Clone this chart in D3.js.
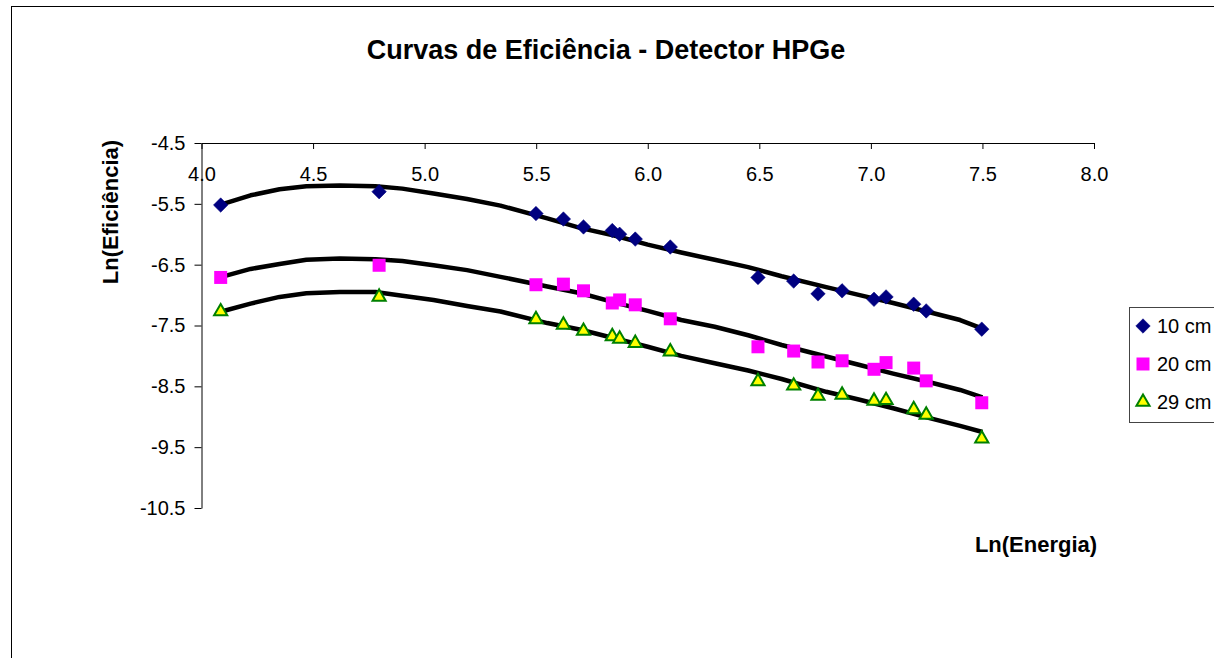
<!DOCTYPE html>
<html>
<head>
<meta charset="utf-8">
<script src="https://cdn.jsdelivr.net/npm/d3@7"></script>
<style>
  body { margin: 0; background: #fff; }
  svg { display: block; font-family: "Liberation Sans", Arial, sans-serif; }
</style>
</head>
<body>
<script>
// ln(energy) for every measured line
let lnEnergia = [4.086, 4.796, 5.499, 5.622, 5.712, 5.841, 5.874, 5.944, 6.101,
  6.494, 6.654, 6.763, 6.871, 7.014, 7.068, 7.192, 7.248, 7.497];

// ln(efficiency) at each distance
let ef10 = [-5.52, -5.30, -5.66, -5.75, -5.88, -5.94, -6.00, -6.08, -6.21,
  -6.71, -6.77, -6.98, -6.93, -7.07, -7.03, -7.15, -7.26, -7.56];
let ef20 = [-6.71, -6.51, -6.83, -6.82, -6.93, -7.13, -7.08, -7.16, -7.39,
  -7.85, -7.92, -8.10, -8.08, -8.22, -8.11, -8.20, -8.41, -8.77];
let ef29 = [-7.27, -7.03, -7.40, -7.49, -7.59, -7.68, -7.72, -7.79, -7.93,
  -8.42, -8.49, -8.66, -8.64, -8.74, -8.73, -8.88, -8.97, -9.36];

// trendlines
let trendX = [4.09, 4.22, 4.35, 4.47, 4.62, 4.78, 4.90, 5.04, 5.19, 5.34, 5.55, 5.70,
  5.85, 6.00, 6.15, 6.30, 6.45, 6.60, 6.80, 6.95, 7.10, 7.25, 7.40, 7.50];
let trend10 = [-5.51, -5.36, -5.26, -5.21, -5.20, -5.21, -5.25, -5.33, -5.42, -5.53, -5.74, -5.90,
  -6.02, -6.17, -6.30, -6.42, -6.54, -6.69, -6.87, -7.00, -7.13, -7.27, -7.41, -7.55];
let trend20 = [-6.70, -6.57, -6.49, -6.42, -6.40, -6.41, -6.44, -6.51, -6.59, -6.70, -6.86, -6.97,
  -7.12, -7.26, -7.41, -7.52, -7.66, -7.82, -8.01, -8.15, -8.29, -8.42, -8.56, -8.68];
let trend29 = [-7.27, -7.14, -7.03, -6.97, -6.95, -6.95, -7.01, -7.08, -7.18, -7.27, -7.46, -7.57,
  -7.71, -7.85, -8.00, -8.12, -8.24, -8.38, -8.59, -8.72, -8.86, -9.01, -9.15, -9.25];

let seriesNames = ['10 cm', '20 cm', '29 cm'];
let xTicks = [4.0, 4.5, 5.0, 5.5, 6.0, 6.5, 7.0, 7.5, 8.0];
let yTicks = [-4.5, -5.5, -6.5, -7.5, -8.5, -9.5, -10.5];

let width = 1214, height = 658;

let svg = d3.select('body')
  .append('svg')
  .attr('width', width)
  .attr('height', height);

// chart border (runs off the right and bottom edges)
svg.append('rect')
  .attr('x', 11.5).attr('y', 6.5)
  .attr('width', 1300).attr('height', 700)
  .attr('fill', 'none')
  .attr('stroke', '#000');

let xScale = d3.scaleLinear().domain([4, 8]).range([201.5, 1094]);
let yScale = d3.scaleLinear().domain([-4.5, -10.5]).range([143, 508]);

// x axis sits on top (crosses at -4.5), labels below the line
let xAxis = svg.append('g')
  .attr('transform', `translate(0,${yScale(-4.5)})`)
  .call(d3.axisBottom(xScale).tickValues(xTicks).tickFormat(d3.format('.1f'))
    .tickSize(6).tickPadding(18).tickSizeOuter(0));

let yAxis = svg.append('g')
  .attr('transform', `translate(${xScale(4)},0)`)
  .call(d3.axisLeft(yScale).tickValues(yTicks).tickFormat(d3.format('.1f'))
    .tickSize(7).tickPadding(9).tickSizeOuter(0));

svg.selectAll('.tick text')
  .attr('font-size', 20)
  .attr('font-family', '"Liberation Sans", Arial, sans-serif')
  .attr('fill', '#000');
svg.selectAll('.domain, .tick line').attr('stroke', '#000');
yAxis.selectAll('.tick text').text(d => d3.format('.1f')(d).replace('\u2212', '-'));

// titles
svg.append('text')
  .attr('x', 606).attr('y', 59)
  .attr('text-anchor', 'middle')
  .attr('font-size', 27).attr('font-weight', 'bold')
  .text('Curvas de Eficiência - Detector HPGe');

svg.append('text')
  .attr('x', 1036).attr('y', 552)
  .attr('text-anchor', 'middle')
  .attr('font-size', 22).attr('font-weight', 'bold')
  .text('Ln(Energia)');

svg.append('text')
  .attr('transform', 'translate(118,212) rotate(-90)')
  .attr('text-anchor', 'middle')
  .attr('font-size', 22).attr('font-weight', 'bold')
  .text('Ln(Eficiência)');

// trendlines
let line = d3.line()
  .x(d => xScale(d[0]))
  .y(d => yScale(d[1]));

[trend10, trend20, trend29].forEach(t => {
  svg.append('path')
    .datum(trendX.map((x, i) => [x, t[i]]))
    .attr('d', line)
    .attr('fill', 'none')
    .attr('stroke', '#000')
    .attr('stroke-width', 4.5)
    .attr('stroke-linejoin', 'round');
});

// markers
let styles = [
  { sym: d3.symbol().type(d3.symbolSquare).size(105), rot: 45, fill: '#000080', stroke: '#000080', sw: 0.5 },
  { sym: d3.symbol().type(d3.symbolSquare).size(169), rot: 0, fill: '#FF00FF', stroke: 'none', sw: 0 },
  { sym: d3.symbol().type(d3.symbolTriangle).size(75), rot: 0, fill: '#FFFF00', stroke: '#008000', sw: 2 }
];

[ef10, ef20, ef29].forEach((vals, s) => {
  let st = styles[s];
  svg.append('g').selectAll('path')
    .data(vals)
    .enter()
    .append('path')
    .attr('d', st.sym)
    .attr('transform', (d, i) => `translate(${xScale(lnEnergia[i])},${yScale(d)}) rotate(${st.rot})`)
    .attr('fill', st.fill)
    .attr('stroke', st.stroke)
    .attr('stroke-width', st.sw);
});

// legend
let legend = svg.append('g');
legend.append('rect')
  .attr('x', 1129.5).attr('y', 307.5)
  .attr('width', 120).attr('height', 115)
  .attr('fill', '#fff')
  .attr('stroke', '#444');

let legY = [326, 364, 402];
seriesNames.forEach((name, s) => {
  let st = styles[s];
  legend.append('path')
    .attr('d', st.sym)
    .attr('transform', `translate(1143,${legY[s]}) rotate(${st.rot})`)
    .attr('fill', st.fill)
    .attr('stroke', st.stroke)
    .attr('stroke-width', st.sw);
  legend.append('text')
    .attr('x', 1157).attr('y', legY[s])
    .attr('dy', '0.36em')
    .attr('font-size', 20)
    .text(name);
});
</script>
</body>
</html>
